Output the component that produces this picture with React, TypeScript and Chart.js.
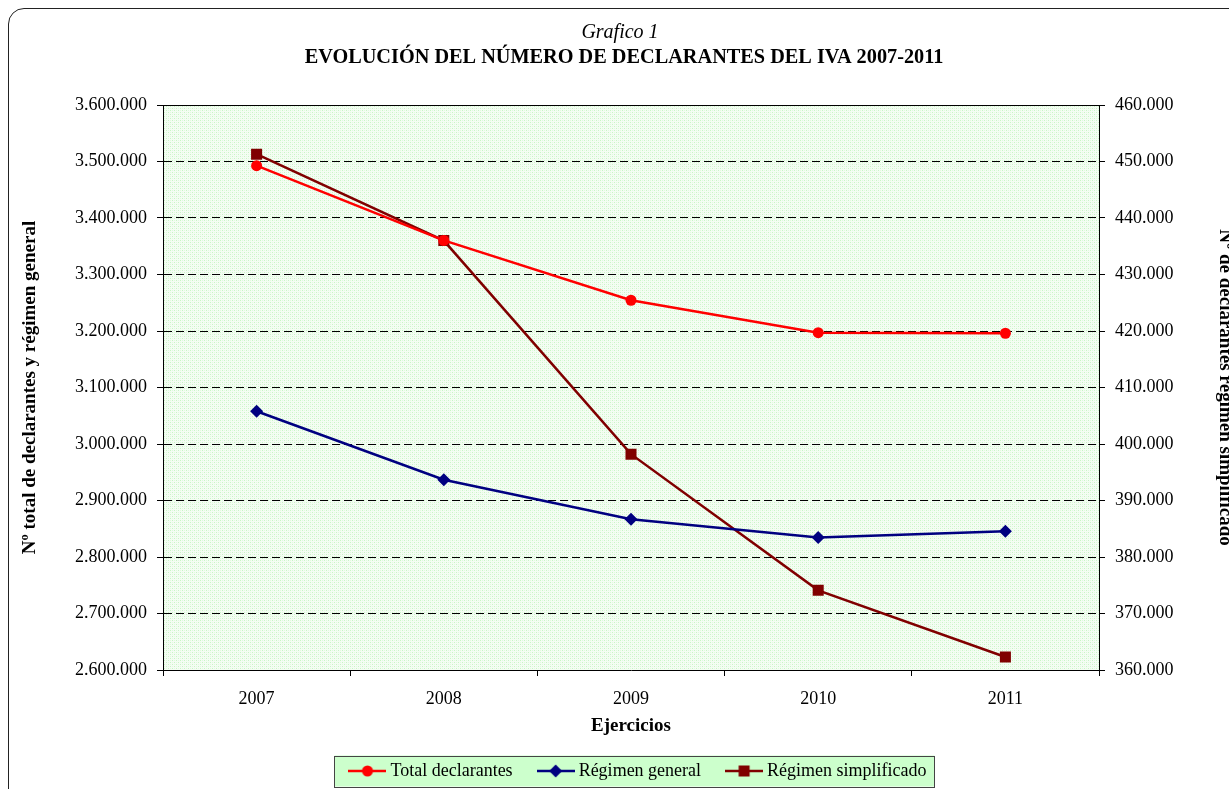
import React, { useEffect, useRef } from 'react';
import { Chart, registerables } from 'chart.js';

Chart.register(...registerables);

const categories = ['2007', '2008', '2009', '2010', '2011'];
const totalDeclarantes = [3492600, 3360300, 3254400, 3197000, 3196000];
const regimenGeneral = [3058000, 2936700, 2866800, 2834400, 2845600];
const regimenSimplificado = [451300, 436000, 398200, 374100, 362300];

const leftAxisRange = [2600000, 3600000];
const leftAxisStep = 100000;
const rightAxisRange = [360000, 460000];
const rightAxisStep = 10000;

const chartSubtitle = 'Grafico 1';
const chartTitle = 'EVOLUCIÓN DEL NÚMERO DE DECLARANTES DEL IVA 2007-2011';
const leftAxisTitle = 'Nº total de declarantes y régimen general';
const rightAxisTitle = 'Nº de declarantes régimen simplificado';
const xAxisTitle = 'Ejercicios';
const seriesNames = ['Total declarantes', 'Régimen general', 'Régimen simplificado'];

const FONT = "'Liberation Serif', 'Times New Roman', serif";
const RED = '#ff0000';
const NAVY = '#000080';
const MAROON = '#800000';

const fmt = (v: number) => String(Math.round(v)).replace(/\B(?=(\d{3})+(?!\d))/g, '.');

function makeLegendImage(color: string, style: string) {
  const c = document.createElement('canvas');
  c.width = 38;
  c.height = 14;
  const ctx = c.getContext('2d')!;
  ctx.strokeStyle = color;
  ctx.lineWidth = 2.5;
  ctx.beginPath();
  ctx.moveTo(0, 7);
  ctx.lineTo(38, 7);
  ctx.stroke();
  ctx.fillStyle = color;
  ctx.beginPath();
  if (style === 'circle') {
    ctx.arc(19, 7, 5.5, 0, Math.PI * 2);
  } else if (style === 'rectRot') {
    ctx.moveTo(19, 0.5);
    ctx.lineTo(25.5, 7);
    ctx.lineTo(19, 13.5);
    ctx.lineTo(12.5, 7);
    ctx.closePath();
  } else {
    ctx.rect(13.5, 1.5, 11, 11);
  }
  ctx.fill();
  return c;
}

function makePattern(ctx: CanvasRenderingContext2D) {
  const p = document.createElement('canvas');
  p.width = 4;
  p.height = 4;
  const pc = p.getContext('2d')!;
  pc.fillStyle = '#f4fdf3';
  pc.fillRect(0, 0, 4, 4);
  pc.fillStyle = '#c9f5c6';
  pc.fillRect(0, 0, 1, 1);
  pc.fillRect(2, 2, 1, 1);
  pc.fillStyle = '#e2fadf';
  pc.fillRect(2, 0, 1, 1);
  pc.fillRect(0, 2, 1, 1);
  return ctx.createPattern(p, 'repeat');
}

export default function App() {
  const ref = useRef<HTMLCanvasElement>(null);

  useEffect(() => {
    const canvas = ref.current!;
    const legendImages = [
      makeLegendImage(RED, 'circle'),
      makeLegendImage(NAVY, 'rectRot'),
      makeLegendImage(MAROON, 'rect'),
    ];

    const decorPlugin = {
      id: 'decor',
      beforeDraw(chart: any) {
        const { ctx, chartArea } = chart;
        ctx.save();
        ctx.fillStyle = makePattern(ctx) || '#eefbec';
        ctx.fillRect(chartArea.left, chartArea.top, chartArea.right - chartArea.left, chartArea.bottom - chartArea.top);
        const lg = chart.legend;
        if (lg && lg.legendHitBoxes && lg.legendHitBoxes.length) {
          const hb = lg.legendHitBoxes;
          const first = hb[0];
          const last = hb[hb.length - 1];
          const x0 = first.left - 19;
          const x1 = last.left + last.width + 8;
          const yc = first.top + first.height / 2;
          ctx.fillStyle = '#ccffcc';
          ctx.fillRect(x0, yc - 15.5, x1 - x0, 31);
          ctx.strokeStyle = '#444';
          ctx.lineWidth = 1;
          ctx.strokeRect(Math.round(x0) + 0.5, Math.round(yc - 15.5) + 0.5, Math.round(x1 - x0), 31);
        }
        ctx.fillStyle = '#000';
        ctx.textAlign = 'center';
        ctx.textBaseline = 'middle';
        ctx.font = `italic 20px ${FONT}`;
        ctx.fillText(chartSubtitle, 620, 33);
        ctx.font = `bold 20.3px ${FONT}`;
        ctx.fillText(chartTitle, 624, 58);
        ctx.restore();
      },
      beforeDatasetsDraw(chart: any) {
        const { ctx, chartArea } = chart;
        ctx.save();
        ctx.strokeStyle = '#000';
        ctx.lineWidth = 1;
        ctx.beginPath();
        ctx.moveTo(chartArea.left, Math.round(chartArea.top) + 0.5);
        ctx.lineTo(chartArea.right, Math.round(chartArea.top) + 0.5);
        ctx.stroke();
        ctx.restore();
      },
    };

    const tickFont = { family: FONT, size: 18 };

    const chart = new Chart(canvas, {
      type: 'line',
      data: {
        labels: categories,
        datasets: [
          {
            label: seriesNames[0],
            data: totalDeclarantes,
            yAxisID: 'y',
            borderColor: RED,
            backgroundColor: RED,
            borderWidth: 2.5,
            pointStyle: 'circle',
            pointRadius: 5.5,
            pointBorderWidth: 0,
            tension: 0,
          },
          {
            label: seriesNames[1],
            data: regimenGeneral,
            yAxisID: 'y',
            borderColor: NAVY,
            backgroundColor: NAVY,
            borderWidth: 2.5,
            pointStyle: 'rectRot',
            pointRadius: 6.5,
            pointBorderWidth: 0,
            tension: 0,
          },
          {
            label: seriesNames[2],
            data: regimenSimplificado,
            yAxisID: 'y1',
            borderColor: MAROON,
            backgroundColor: MAROON,
            borderWidth: 2.5,
            pointStyle: 'rect',
            pointRadius: 7.8,
            pointBorderWidth: 0,
            tension: 0,
          },
        ],
      },
      options: {
        responsive: false,
        animation: false,
        devicePixelRatio: 1,
        layout: { padding: { left: 14, right: 0, top: 105, bottom: 40 } },
        plugins: {
          title: { display: false },
          tooltip: { enabled: false },
          legend: {
            position: 'bottom',
            labels: {
              usePointStyle: true,
              pointStyleWidth: 28,
              boxHeight: 14,
              padding: 29,
              color: '#000',
              font: { family: FONT, size: 18 },
              generateLabels: (ch: any) => {
                const items = (Chart.defaults.plugins.legend.labels as any).generateLabels(ch);
                return items.map((it: any, i: number) => ({ ...it, pointStyle: legendImages[i] }));
              },
            },
          },
        },
        scales: {
          x: {
            type: 'category',
            offset: true,
            grid: {
              offset: true,
              drawOnChartArea: false,
              tickLength: 6,
              tickColor: '#000',
              color: '#000',
            },
            border: { display: true, color: '#000', width: 1 },
            ticks: { font: tickFont, color: '#000', padding: 12, maxRotation: 0 },
            title: {
              display: true,
              text: xAxisTitle,
              font: { family: FONT, size: 19, weight: 'bold', lineHeight: 0.6 },
              color: '#000',
              padding: { top: 0, bottom: 1 },
            },
            afterFit: (s: any) => {
              s.height = 63;
            },
          },
          y: {
            type: 'linear',
            position: 'left',
            min: leftAxisRange[0],
            max: leftAxisRange[1],
            grid: {
              color: '#000',
              lineWidth: 1,
              tickLength: 6,
              tickColor: '#000',
              tickBorderDash: [],
            },
            border: { display: true, color: '#000', width: 1, dash: [8, 4] },
            ticks: {
              stepSize: leftAxisStep,
              font: tickFont,
              color: '#000',
              padding: 10,
              callback: (v: any) => fmt(Number(v)),
            },
            title: {
              display: true,
              text: leftAxisTitle,
              font: { family: FONT, size: 19, weight: 'bold', lineHeight: 1 },
              color: '#000',
              padding: { top: 6.5, bottom: 0 },
            },
            afterFit: (s: any) => {
              s.width = 163 - 14;
            },
          },
          y1: {
            type: 'linear',
            position: 'right',
            min: rightAxisRange[0],
            max: rightAxisRange[1],
            grid: {
              drawOnChartArea: false,
              tickLength: 6,
              tickColor: '#000',
              color: '#000',
            },
            border: { display: true, color: '#000', width: 1 },
            ticks: {
              stepSize: rightAxisStep,
              font: tickFont,
              color: '#000',
              padding: 10,
              callback: (v: any) => fmt(Number(v)),
            },
            title: {
              display: true,
              text: rightAxisTitle,
              font: { family: FONT, size: 19, weight: 'bold', lineHeight: 1 },
              color: '#000',
              padding: { top: 32, bottom: 0 },
            },
            afterFit: (s: any) => {
              s.width = 1266 - 1099;
            },
          },
        },
      } as any,
      plugins: [decorPlugin],
    });

    return () => chart.destroy();
  }, []);

  return (
    <div
      style={{
        position: 'fixed',
        left: 0,
        top: 0,
        width: 1229,
        height: 789,
        overflow: 'hidden',
        background: '#fff',
      }}
    >
      <div
        style={{
          position: 'absolute',
          left: 8,
          top: 8,
          width: 1300,
          height: 860,
          border: '1px solid #222',
          borderRadius: 16,
          boxSizing: 'border-box',
        }}
      />
      <canvas
        ref={ref}
        width={1266}
        height={830}
        style={{ position: 'absolute', left: 0, top: 0, width: 1266, height: 830 }}
      />
    </div>
  );
}
